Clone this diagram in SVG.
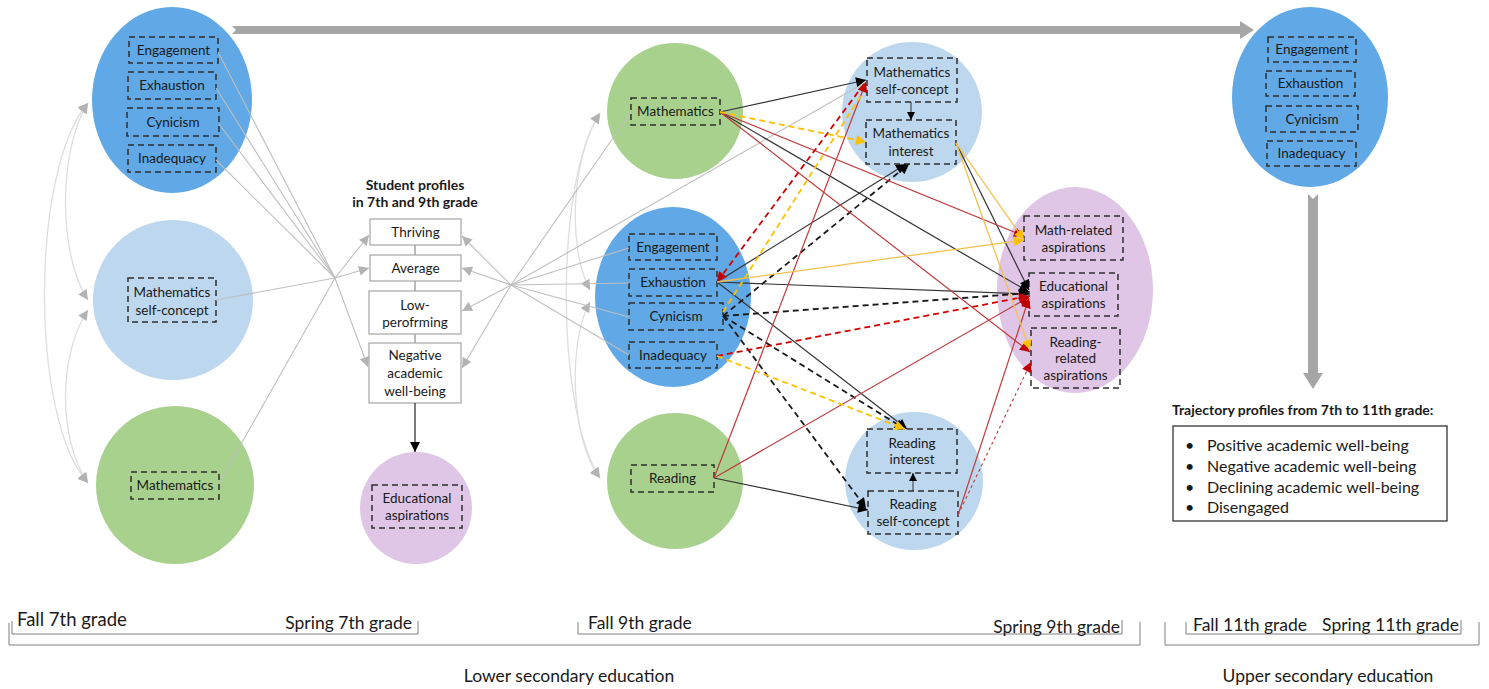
<svg xmlns="http://www.w3.org/2000/svg" width="1489" height="689" viewBox="0 0 1489 689">
  <style>
    text { font-family: Lato, "Liberation Sans", "DejaVu Sans", sans-serif; fill: #1a1a1a; }
    .lbl { font-size: 13.5px; text-anchor: middle; }
    .bold { font-weight: bold; }
    .tl { font-size: 17.5px; }
    .dbox { fill: none; stroke: #2e2e2e; stroke-width: 1.5; stroke-dasharray: 6 4; }
    .pbox { fill: #ffffff; stroke: #a6a6a6; stroke-width: 1.2; }
    .dark { fill: #60a8e6; }
    .light { fill: #bdd7ee; }
    .green { fill: #a9d18e; }
    .purple { fill: #e0c6e6; }
    .gline { fill: none; stroke: #bfbfbf; stroke-width: 1.1; }
    .arc { fill: none; stroke: #dedede; stroke-width: 1.3; }
    .k { fill: none; stroke: #333333; stroke-width: 1.2; }
    .kd { fill: none; stroke: #1a1a1a; stroke-width: 1.8; stroke-dasharray: 6 4; }
    .r { fill: none; stroke: #c0393b; stroke-width: 1.2; }
    .rd { fill: none; stroke: #d40000; stroke-width: 1.8; stroke-dasharray: 6 4; }
    .rdot { fill: none; stroke: #c0393b; stroke-width: 1.1; stroke-dasharray: 3 3; }
    .y { fill: none; stroke: #f2c14e; stroke-width: 1.3; }
    .yd { fill: none; stroke: #ffc000; stroke-width: 1.8; stroke-dasharray: 6 4; }
    .brk { fill: none; stroke: #7f7f7f; stroke-width: 1; }
  </style>
  <defs>
    <marker id="hk" viewBox="0 0 10 10" refX="10" refY="5" markerWidth="11" markerHeight="10" markerUnits="userSpaceOnUse" orient="auto">
      <path d="M0,0 L10,5 L0,10 z" fill="#000000"/>
    </marker>
    <marker id="hks" viewBox="0 0 10 10" refX="10" refY="5" markerWidth="8" markerHeight="8" markerUnits="userSpaceOnUse" orient="auto">
      <path d="M0,0 L10,5 L0,10 z" fill="#000000"/>
    </marker>
    <marker id="hr" viewBox="0 0 10 10" refX="10" refY="5" markerWidth="11" markerHeight="10" markerUnits="userSpaceOnUse" orient="auto">
      <path d="M0,0 L10,5 L0,10 z" fill="#c00000"/>
    </marker>
    <marker id="hy" viewBox="0 0 10 10" refX="10" refY="5" markerWidth="11" markerHeight="10" markerUnits="userSpaceOnUse" orient="auto">
      <path d="M0,0 L10,5 L0,10 z" fill="#ffc000"/>
    </marker>
    <marker id="hg" viewBox="0 0 10 10" refX="10" refY="5" markerWidth="11" markerHeight="10" markerUnits="userSpaceOnUse" orient="auto-start-reverse">
      <path d="M0,0 L10,5 L0,10 z" fill="#b3b3b3"/>
    </marker>
  </defs>

  <!-- broad time arrows -->
  <g id="time-arrows" fill="#a6a6a6">
    <path d="M232,26 L1240,26 L1240,21 L1254,30 L1240,39 L1240,34 L232,34 L236,30 Z"/>
    <path d="M1308,194 L1313,199 L1318,194 L1318,373 L1323,373 L1313,389 L1303,373 L1308,373 Z"/>
  </g>

  <!-- 7th grade variables -->
  <g id="burnout-7">
    <ellipse class="dark" cx="172" cy="100" rx="80" ry="93"/>
    <rect class="dbox" x="129" y="37" width="89" height="26"/>
    <text class="lbl" x="173.5" y="55">Engagement</text>
    <rect class="dbox" x="128" y="72" width="88" height="27"/>
    <text class="lbl" x="172" y="90">Exhaustion</text>
    <rect class="dbox" x="127" y="108" width="92" height="28"/>
    <text class="lbl" x="173" y="127">Cynicism</text>
    <rect class="dbox" x="128" y="145" width="88" height="27"/>
    <text class="lbl" x="172" y="163">Inadequacy</text>
  </g>
  <g id="selfconcept-7">
    <circle class="light" cx="173" cy="300" r="80"/>
    <rect class="dbox" x="128" y="278" width="88" height="44"/>
    <text class="lbl" x="172" y="297">Mathematics</text>
    <text class="lbl" x="172" y="315">self-concept</text>
  </g>
  <g id="math-7">
    <circle class="green" cx="175" cy="485" r="79"/>
    <rect class="dbox" x="131" y="472" width="88" height="27"/>
    <text class="lbl" x="175" y="490">Mathematics</text>
  </g>

  <!-- latent profiles -->
  <g id="profiles">
    <text class="lbl bold" x="415" y="190" style="font-size:14px">Student profiles</text>
    <text class="lbl bold" x="415" y="207" style="font-size:14px">in 7th and 9th grade</text>
    <path d="M415,245 V255 M415,281 V291 M415,334 V343" stroke="#8c8c8c" stroke-width="1.2"/>
    <rect class="pbox" x="370" y="219" width="91" height="26"/>
    <text class="lbl" x="415.5" y="237">Thriving</text>
    <rect class="pbox" x="370" y="255" width="91" height="26"/>
    <text class="lbl" x="415.5" y="273">Average</text>
    <rect class="pbox" x="369" y="291" width="92" height="43"/>
    <text class="lbl" x="415" y="310">Low-</text>
    <text class="lbl" x="415" y="327">perofrming</text>
    <rect class="pbox" x="369" y="343" width="92" height="60"/>
    <text class="lbl" x="415" y="360">Negative</text>
    <text class="lbl" x="415" y="378">academic</text>
    <text class="lbl" x="415" y="396">well-being</text>
  </g>
  <g id="aspirations-profiles">
    <circle class="purple" cx="416" cy="508" r="56"/>
    <rect class="dbox" x="372" y="485" width="90" height="43"/>
    <text class="lbl" x="417" y="503">Educational</text>
    <text class="lbl" x="417" y="520">aspirations</text>
  </g>

  <!-- 9th grade variables -->
  <g id="math-9">
    <circle class="green" cx="675" cy="111" r="68"/>
    <rect class="dbox" x="631" y="98" width="89" height="27"/>
    <text class="lbl" x="675.5" y="116">Mathematics</text>
  </g>
  <g id="burnout-9">
    <ellipse class="dark" cx="673" cy="297" rx="78" ry="90"/>
    <rect class="dbox" x="629" y="234" width="88" height="26"/>
    <text class="lbl" x="673" y="252">Engagement</text>
    <rect class="dbox" x="629" y="269" width="88" height="27"/>
    <text class="lbl" x="673" y="287">Exhaustion</text>
    <rect class="dbox" x="629" y="303" width="94" height="27"/>
    <text class="lbl" x="676" y="321">Cynicism</text>
    <rect class="dbox" x="629" y="342" width="88" height="26"/>
    <text class="lbl" x="673" y="360">Inadequacy</text>
  </g>
  <g id="reading-9">
    <circle class="green" cx="675" cy="481" r="68"/>
    <rect class="dbox" x="631" y="465" width="83" height="27"/>
    <text class="lbl" x="672.5" y="483">Reading</text>
  </g>
  <g id="math-motivation">
    <circle class="light" cx="912" cy="112" r="70"/>
    <rect class="dbox" x="867" y="58" width="90" height="44"/>
    <text class="lbl" x="912" y="77">Mathematics</text>
    <text class="lbl" x="912" y="94">self-concept</text>
    <rect class="dbox" x="866" y="120" width="90" height="44"/>
    <text class="lbl" x="911" y="138">Mathematics</text>
    <text class="lbl" x="911" y="156">interest</text>
  </g>
  <g id="reading-motivation">
    <circle class="light" cx="914" cy="481" r="69"/>
    <rect class="dbox" x="867" y="429" width="90" height="44"/>
    <text class="lbl" x="912" y="448">Reading</text>
    <text class="lbl" x="912" y="464">interest</text>
    <rect class="dbox" x="868" y="491" width="90" height="43"/>
    <text class="lbl" x="913" y="509">Reading</text>
    <text class="lbl" x="913" y="526">self-concept</text>
  </g>
  <g id="aspirations-9">
    <ellipse class="purple" cx="1075" cy="290" rx="78" ry="103"/>
    <rect class="dbox" x="1024" y="216" width="99" height="44"/>
    <text class="lbl" x="1073.5" y="235">Math-related</text>
    <text class="lbl" x="1073.5" y="252">aspirations</text>
    <rect class="dbox" x="1029" y="273" width="89" height="43"/>
    <text class="lbl" x="1073.5" y="291">Educational</text>
    <text class="lbl" x="1073.5" y="308">aspirations</text>
    <rect class="dbox" x="1031" y="328" width="89" height="60"/>
    <text class="lbl" x="1075.5" y="347">Reading-</text>
    <text class="lbl" x="1075.5" y="363">related</text>
    <text class="lbl" x="1075.5" y="380">aspirations</text>
  </g>

  <!-- 11th grade -->
  <g id="burnout-11">
    <ellipse class="dark" cx="1310" cy="97" rx="78" ry="90"/>
    <rect class="dbox" x="1268" y="37" width="88" height="25"/>
    <text class="lbl" x="1312" y="54">Engagement</text>
    <rect class="dbox" x="1266" y="71" width="89" height="25"/>
    <text class="lbl" x="1310.5" y="88">Exhaustion</text>
    <rect class="dbox" x="1266" y="106" width="92" height="26"/>
    <text class="lbl" x="1312" y="124">Cynicism</text>
    <rect class="dbox" x="1267" y="141" width="89" height="25"/>
    <text class="lbl" x="1311.5" y="158">Inadequacy</text>
  </g>
  <g id="trajectories">
    <text class="bold" x="1172" y="415" style="font-size:14px">Trajectory profiles from 7th to 11th grade:</text>
    <rect x="1173" y="426" width="274" height="95" fill="#ffffff" stroke="#333333" stroke-width="1.3"/>
    <g style="font-size:16px">
      <text x="1185" y="451">•</text><text x="1207" y="451">Positive academic well-being</text>
      <text x="1185" y="472">•</text><text x="1207" y="472">Negative academic well-being</text>
      <text x="1185" y="493">•</text><text x="1207" y="493">Declining academic well-being</text>
      <text x="1185" y="513">•</text><text x="1207" y="513">Disengaged</text>
    </g>
  </g>

  <!-- connectors -->
  <g id="connectors">
    <!-- correlations among 7th grade variables -->
    <path class="arc" d="M88,103 C30,170 30,420 88,483" marker-start="url(#hg)" marker-end="url(#hg)"/>
    <path class="arc" d="M88,103 C58,150 58,255 88,300" marker-start="url(#hg)" marker-end="url(#hg)"/>
    <path class="arc" d="M88,310 C58,355 58,440 88,483" marker-start="url(#hg)" marker-end="url(#hg)"/>
    <!-- correlations among 9th grade variables -->
    <path class="arc" d="M600,113 C555,180 555,410 600,478" marker-start="url(#hg)" marker-end="url(#hg)"/>
    <path class="arc" d="M600,113 C570,160 568,250 590,290" marker-start="url(#hg)" marker-end="url(#hg)"/>
    <path class="arc" d="M590,302 C568,340 570,440 600,478" marker-start="url(#hg)" marker-end="url(#hg)"/>

    <!-- 7th grade predictors into profiles -->
    <polyline class="gline" points="218,52 335,278 368,367" marker-end="url(#hg)"/>
    <polyline class="gline" points="216,88 335,278"/>
    <polyline class="gline" points="219,124 335,278"/>
    <polyline class="gline" points="216,160 335,278"/>
    <polyline class="gline" points="216,300 335,278 369,268" marker-end="url(#hg)"/>
    <polyline class="gline" points="219,483 335,278 369,235" marker-end="url(#hg)"/>

    <!-- 9th grade variables into profiles -->
    <line class="gline" x1="631" y1="112" x2="511" y2="285"/>
    <line class="gline" x1="866" y1="82" x2="511" y2="285"/>
    <line class="gline" x1="629" y1="248" x2="511" y2="285"/>
    <line class="gline" x1="629" y1="283" x2="511" y2="285"/>
    <line class="gline" x1="629" y1="317" x2="511" y2="285"/>
    <line class="gline" x1="629" y1="355" x2="511" y2="285"/>
    <line class="gline" x1="511" y1="285" x2="462" y2="236" marker-end="url(#hg)"/>
    <line class="gline" x1="511" y1="285" x2="462" y2="268" marker-end="url(#hg)"/>
    <line class="gline" x1="511" y1="285" x2="462" y2="311" marker-end="url(#hg)"/>
    <line class="gline" x1="511" y1="285" x2="462" y2="368" marker-end="url(#hg)"/>

    <!-- profiles to aspirations -->
    <line x1="415" y1="403" x2="415" y2="452" stroke="#333333" stroke-width="1.3" marker-end="url(#hk)"/>

    <!-- within-domain paths -->
    <line x1="911" y1="102" x2="911" y2="120" stroke="#333" stroke-width="1" marker-end="url(#hks)"/>
    <line x1="913" y1="491" x2="913" y2="473" stroke="#333" stroke-width="1" marker-end="url(#hks)"/>

    <!-- solid black paths -->
    <line class="k" x1="720" y1="112" x2="866" y2="80" marker-end="url(#hk)"/>
    <line class="k" x1="720" y1="112" x2="1029" y2="292" marker-end="url(#hk)"/>
    <line class="k" x1="717" y1="282" x2="906" y2="164" marker-end="url(#hk)"/>
    <line class="k" x1="717" y1="282" x2="1029" y2="294" marker-end="url(#hk)"/>
    <line class="k" x1="717" y1="282" x2="907" y2="429" marker-end="url(#hk)"/>
    <line class="k" x1="714" y1="478" x2="868" y2="510" marker-end="url(#hk)"/>
    <line class="k" x1="956" y1="143" x2="1029" y2="290" marker-end="url(#hk)"/>

    <!-- dashed black paths -->
    <line class="kd" x1="723" y1="316" x2="909" y2="164" marker-end="url(#hk)"/>
    <line class="kd" x1="723" y1="316" x2="1029" y2="293" marker-end="url(#hk)"/>
    <line class="kd" x1="723" y1="316" x2="905" y2="429" marker-end="url(#hk)"/>
    <line class="kd" x1="723" y1="316" x2="866" y2="508" marker-end="url(#hk)"/>

    <!-- solid red paths -->
    <line class="r" x1="720" y1="112" x2="1024" y2="236" marker-end="url(#hr)"/>
    <line class="r" x1="720" y1="112" x2="1030" y2="352" marker-end="url(#hr)"/>
    <line class="r" x1="714" y1="478" x2="866" y2="82" marker-end="url(#hr)"/>
    <line class="r" x1="714" y1="478" x2="1029" y2="297" marker-end="url(#hr)"/>
    <line class="r" x1="958" y1="515" x2="1029" y2="298" marker-end="url(#hr)"/>
    <line class="rdot" x1="958" y1="515" x2="1031" y2="362" marker-end="url(#hr)"/>

    <!-- dashed red paths -->
    <line class="rd" x1="864" y1="84" x2="717" y2="282" marker-end="url(#hr)"/>
    <line class="rd" x1="717" y1="356" x2="1029" y2="296" marker-end="url(#hr)"/>

    <!-- yellow paths -->
    <line class="y" x1="717" y1="282" x2="1024" y2="240" marker-end="url(#hy)"/>
    <line class="y" x1="956" y1="143" x2="1024" y2="240" marker-end="url(#hy)"/>
    <line class="y" x1="956" y1="143" x2="1030" y2="350" marker-end="url(#hy)"/>
    <line class="yd" x1="720" y1="112" x2="866" y2="142" marker-end="url(#hy)"/>
    <line class="yd" x1="723" y1="312" x2="862" y2="94"/>
    <line class="yd" x1="717" y1="356" x2="905" y2="429" marker-end="url(#hy)"/>
  </g>

  <!-- time line -->
  <g id="timeline">
    <path class="brk" d="M12,621 V634 H418 V621"/>
    <path class="brk" d="M9,623 V645 H1140 V622"/>
    <path class="brk" d="M578,622 V634 H1122 V620"/>
    <path class="brk" d="M1165,622 V645 H1479 V622"/>
    <path class="brk" d="M1186,622 V634 H1461 V620"/>
    <text class="tl" x="17" y="626" style="font-size:18.5px">Fall 7th grade</text>
    <text class="tl" x="412" y="629" text-anchor="end">Spring 7th grade</text>
    <text class="tl" x="588" y="629">Fall 9th grade</text>
    <text class="tl" x="1120" y="633" text-anchor="end">Spring 9th grade</text>
    <text class="tl" x="1193" y="631">Fall 11th grade</text>
    <text class="tl" x="1459" y="631" text-anchor="end">Spring 11th grade</text>
    <text class="tl" x="569" y="682" text-anchor="middle">Lower secondary education</text>
    <text class="tl" x="1328" y="682" text-anchor="middle">Upper secondary education</text>
  </g>
</svg>
